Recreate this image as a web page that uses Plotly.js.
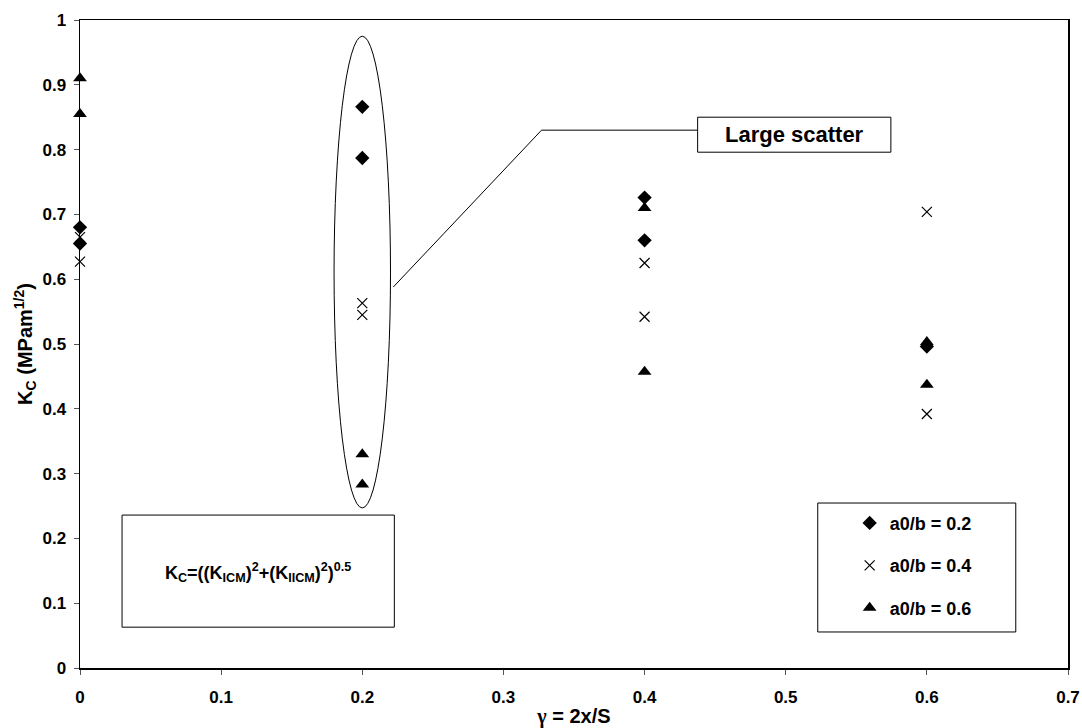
<!DOCTYPE html>
<html>
<head>
<meta charset="utf-8">
<script src="https://cdn.plot.ly/plotly-3.0.1.min.js"></script>
<style>
  html, body { margin: 0; padding: 0; background: #fff; }
  #chart { width: 1082px; height: 728px; }
</style>
</head>
<body>
<div id="chart"></div>
<script>
// Crack position ratio gamma = 2x/S for each specimen group
const gammaA = [0, 0, 0.2, 0.2, 0.4, 0.4, 0.6];
const gammaB = [0, 0, 0.2, 0.2, 0.4, 0.4, 0.6, 0.6];
const gammaC = [0, 0, 0.2, 0.2, 0.4, 0.4, 0.6, 0.6];

// Effective fracture toughness K_C (MPa m^1/2)
const kcA = [0.68, 0.655, 0.866, 0.787, 0.726, 0.66, 0.496];
const kcB = [0.665, 0.627, 0.563, 0.545, 0.625, 0.542, 0.704, 0.392];
const kcC = [0.91, 0.855, 0.33, 0.283, 0.71, 0.457, 0.503, 0.437];

const seriesNames = ['a0/b = 0.2', 'a0/b = 0.4', 'a0/b = 0.6'];
const tickVals = [0, 0.1, 0.2, 0.3, 0.4, 0.5, 0.6, 0.7, 0.8, 0.9, 1];
const xTickText = ['0', '0.1', '0.2', '0.3', '0.4', '0.5', '0.6', '0.7'];
const yTickText = ['0', '0.1', '0.2', '0.3', '0.4', '0.5', '0.6', '0.7', '0.8', '0.9', '1'];

const FONT = 'Liberation Sans, Arial, sans-serif';
const bold = s => '<b>' + s + '</b>';

const traces = [
  {
    x: gammaA, y: kcA, name: bold(seriesNames[0]), legendgroup: 'g1',
    type: 'scatter', mode: 'markers', cliponaxis: false,
    marker: { symbol: 'diamond', size: 11, color: '#000' }
  },
  {
    x: gammaB, y: kcB, name: bold(seriesNames[1]), legendgroup: 'g2',
    type: 'scatter', mode: 'markers', cliponaxis: false,
    marker: { symbol: 'x-thin-open', size: 10, color: '#000', line: { width: 1.2, color: '#000' } }
  },
  {
    x: gammaC, y: kcC, name: bold(seriesNames[2]), legendgroup: 'g3',
    type: 'scatter', mode: 'markers', cliponaxis: false,
    marker: { symbol: 'triangle-up', size: 12, color: '#000' }
  }
];

const layout = {
  width: 1082, height: 728,
  margin: { l: 80, r: 14, t: 20, b: 60 },
  paper_bgcolor: '#fff', plot_bgcolor: '#fff',
  font: { family: FONT, color: '#000' },
  showlegend: true,
  legend: {
    x: 0.779, y: 0.252, xanchor: 'left', yanchor: 'top',
    bgcolor: 'rgba(0,0,0,0)', borderwidth: 0,
    traceorder: 'grouped', tracegroupgap: 16, itemwidth: 30,
    font: { family: FONT, size: 18, color: '#000' }
  },
  xaxis: {
    range: [0, 0.7], tickvals: tickVals.slice(0, 8), ticktext: xTickText.map(bold),
    showgrid: false, zeroline: false,
    showline: true, linecolor: '#000', linewidth: 1.5, mirror: true,
    ticks: 'outside', ticklen: 5, tickcolor: '#555', tickwidth: 1,
    ticklabelstandoff: 8,
    tickfont: { family: FONT, size: 17, color: '#000' },
    title: {
      text: bold('<span style="font-family:Liberation Serif, serif">γ</span> = 2x/S'),
      standoff: 4, font: { family: FONT, size: 20, color: '#000' }
    }
  },
  yaxis: {
    range: [0, 1], tickvals: tickVals, ticktext: yTickText.map(bold),
    showgrid: false, zeroline: false,
    showline: true, linecolor: '#000', linewidth: 1.5, mirror: true,
    ticks: 'outside', ticklen: 5, tickcolor: '#555', tickwidth: 1,
    ticklabelstandoff: 4,
    tickfont: { family: FONT, size: 17, color: '#000' },
    title: { text: bold('K<sub>C</sub> (MPam<sup>1/2</sup>)'), standoff: 4, font: { family: FONT, size: 20, color: '#000' } }
  },
  shapes: [
    // ellipse around the widely scattered group at gamma = 0.2
    { type: 'circle', xref: 'x', yref: 'y', x0: 0.18, x1: 0.22, y0: 0.247, y1: 0.975,
      line: { color: '#000', width: 1 } },
    // leader line to the callout box
    { type: 'path', xref: 'x', yref: 'y', path: 'M 0.222 0.588 L 0.327 0.830 L 0.4376 0.830',
      line: { color: '#000', width: 1 } },
    // callout box
    { type: 'rect', xref: 'x', yref: 'y', x0: 0.4376, x1: 0.5745, y0: 0.796, y1: 0.850,
      line: { color: '#000', width: 1 }, fillcolor: '#fff' },
    // formula box
    { type: 'rect', xref: 'x', yref: 'y', x0: 0.0298, x1: 0.2227, y0: 0.063, y1: 0.236,
      line: { color: '#000', width: 1 }, fillcolor: 'rgba(0,0,0,0)' },
    // legend frame
    { type: 'rect', xref: 'x', yref: 'y', x0: 0.5227, x1: 0.663, y0: 0.0556, y1: 0.2546,
      line: { color: '#000', width: 1 }, fillcolor: 'rgba(0,0,0,0)' }
  ],
  annotations: [
    { xref: 'x', yref: 'y', x: 0.506, y: 0.823, text: bold('Large scatter'), showarrow: false,
      font: { family: FONT, size: 22, color: '#000' } },
    { xref: 'x', yref: 'y', x: 0.1262, y: 0.148,
      text: bold('K<sub>C</sub>=((K<sub>ICM</sub>)<sup>2</sup>+(K<sub>IICM</sub>)<sup>2</sup>)<sup>0.5</sup>'),
      showarrow: false, font: { family: FONT, size: 18, color: '#000' } }
  ]
};

Plotly.newPlot('chart', traces, layout, { displayModeBar: false, staticPlot: true });
</script>
</body>
</html>
